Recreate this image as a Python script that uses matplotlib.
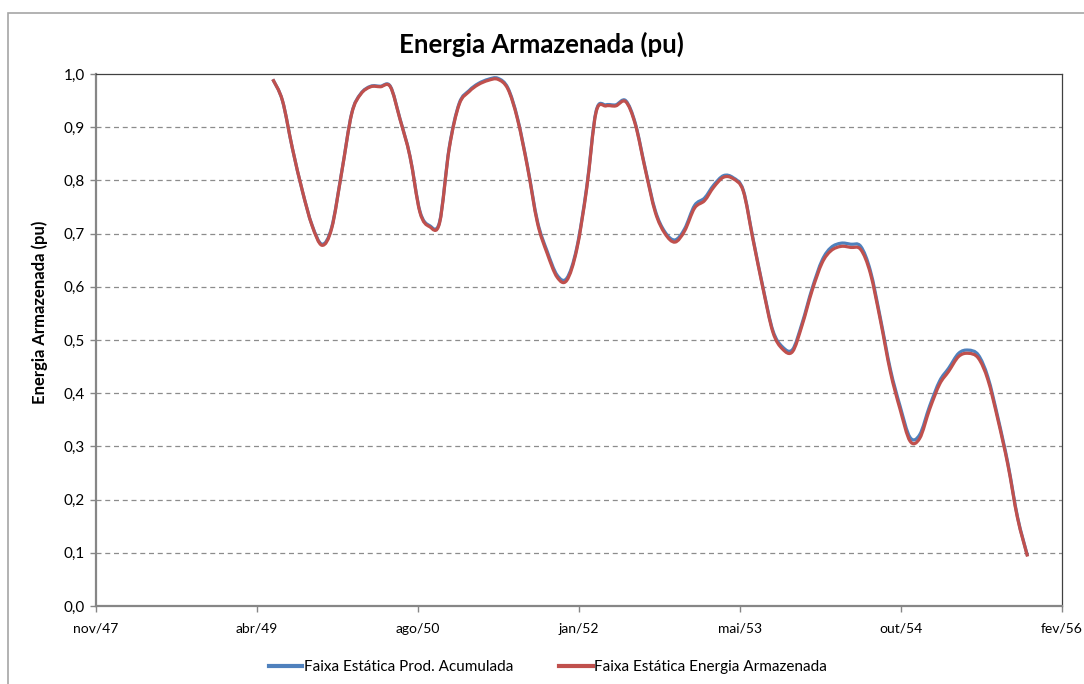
import numpy as np
import pandas as pd
import matplotlib
matplotlib.use("Agg")
import matplotlib.pyplot as plt
import matplotlib.dates as mdates
from matplotlib.lines import Line2D
from matplotlib.path import Path
from matplotlib.patches import PathPatch

plt.rcParams['font.family'] = ['Lato', 'DejaVu Sans']

# monthly series, jun/49 .. nov/55
meses = pd.date_range("1949-06-01", periods=78, freq="MS")

energia_armazenada = [
    0.990, 0.950, 0.860, 0.780, 0.715, 0.678, 0.710, 0.815, 0.925, 0.962,
    0.976, 0.976, 0.976, 0.915, 0.845, 0.740, 0.713, 0.720, 0.860, 0.943,
    0.967, 0.980, 0.988, 0.990, 0.972, 0.915, 0.825, 0.720, 0.663, 0.618,
    0.612, 0.670, 0.785, 0.928, 0.940, 0.940, 0.948, 0.905, 0.820, 0.740,
    0.700, 0.684, 0.705, 0.748, 0.762, 0.787, 0.806, 0.803, 0.780, 0.690,
    0.598, 0.515, 0.483, 0.478, 0.528, 0.593, 0.645, 0.668, 0.676, 0.674,
    0.670, 0.625, 0.537, 0.440, 0.370, 0.310, 0.315, 0.370, 0.417, 0.441,
    0.469, 0.475, 0.466, 0.425, 0.350, 0.265, 0.165, 0.093,
]

prod_acumulada = [
    0.990, 0.950, 0.860, 0.780, 0.716, 0.680, 0.712, 0.816, 0.926, 0.963,
    0.977, 0.977, 0.977, 0.916, 0.846, 0.742, 0.715, 0.722, 0.862, 0.945,
    0.969, 0.982, 0.990, 0.992, 0.974, 0.917, 0.827, 0.723, 0.667, 0.622,
    0.616, 0.673, 0.788, 0.930, 0.942, 0.942, 0.950, 0.907, 0.822, 0.743,
    0.703, 0.688, 0.709, 0.753, 0.767, 0.791, 0.809, 0.805, 0.782, 0.692,
    0.600, 0.518, 0.487, 0.482, 0.532, 0.597, 0.650, 0.674, 0.682, 0.680,
    0.676, 0.630, 0.541, 0.445, 0.376, 0.317, 0.322, 0.376, 0.423, 0.447,
    0.475, 0.481, 0.472, 0.430, 0.354, 0.268, 0.167, 0.094,
]

xtick_labels = ["nov/47", "abr/49", "ago/50", "jan/52", "mai/53", "out/54", "fev/56"]
ytick_labels = ["0,0", "0,1", "0,2", "0,3", "0,4", "0,5", "0,6", "0,7", "0,8", "0,9", "1,0"]

AZUL = "#4F81BD"
VERMELHO = "#C0504D"


def linha_suave(x, y):
    """Excel-like smoothed line: cubic Bezier segments through every point."""
    p = np.column_stack([x, y])
    verts = [p[0]]
    codes = [Path.MOVETO]
    n = len(p)
    for i in range(n - 1):
        p0 = p[max(i - 1, 0)]
        p1 = p[i]
        p2 = p[i + 1]
        p3 = p[min(i + 2, n - 1)]
        verts += [p1 + (p2 - p0) / 6, p2 - (p3 - p1) / 6, p2]
        codes += [Path.CURVE4] * 3
    return Path(verts, codes)


fig = plt.figure(figsize=(10.84, 6.84), dpi=100)
ax = fig.add_axes([96 / 1084, 1 - 606 / 684, 966 / 1084, 532 / 684])

# outer chart border (Excel chart area)
fig.add_artist(plt.Rectangle((8 / 1084, -0.1), 1.2, 1 - 13 / 684 + 0.1,
                             transform=fig.transFigure, fill=False,
                             edgecolor="#a6a6a6", linewidth=1.2))

xnum = mdates.date2num(meses)
for serie, cor in [(prod_acumulada, AZUL), (energia_armazenada, VERMELHO)]:
    ax.add_patch(PathPatch(linha_suave(xnum, serie), fill=False, edgecolor=cor,
                           linewidth=2.3, capstyle="butt", joinstyle="round"))

inicio = pd.Timestamp("1947-11-30")
xticks = [inicio + pd.Timedelta(days=500 * i) for i in range(len(xtick_labels))]
ax.set_xlim(mdates.date2num(xticks[0]), mdates.date2num(xticks[-1]))
ax.set_xticks(mdates.date2num(xticks))
ax.set_xticklabels(xtick_labels, fontsize=10)

ax.set_ylim(0, 1.0)
ax.set_yticks(np.arange(0, 1.01, 0.1))
ax.set_yticklabels(ytick_labels, fontsize=11)

for v in np.arange(0.1, 0.95, 0.1):
    ax.axhline(v, color="#8c8c8c", linewidth=0.9, linestyle=(0, (4, 3)), zorder=0)

for s in ["top", "right"]:
    ax.spines[s].set_color("#404040")
    ax.spines[s].set_linewidth(0.9)
for s in ["left", "bottom"]:
    ax.spines[s].set_color("#868686")
    ax.spines[s].set_linewidth(1.6)
ax.tick_params(axis="both", direction="out", length=4, color="#868686", width=1)
ax.tick_params(axis="x", pad=8)
ax.tick_params(axis="y", pad=4)

fig.text(40 / 1084, 1 - 312 / 684, "Energia Armazenada (pu)", rotation=90,
         ha="center", va="center", fontsize=12, fontweight="bold")
fig.text(541 / 1084, 1 - 44 / 684, "Energia Armazenada (pu)", ha="center", va="center",
         fontsize=18.5, fontweight="bold")

handles = [Line2D([], [], color=AZUL, linewidth=3),
           Line2D([], [], color=VERMELHO, linewidth=3)]
fig.legend(handles, ["Faixa Estática Prod. Acumulada", "Faixa Estática Energia Armazenada"],
           loc="center", bbox_to_anchor=(548 / 1084, 1 - 667 / 684), ncol=2, frameon=False,
           fontsize=11, handlelength=2.2, handletextpad=0.1, columnspacing=3.0)

fig.savefig("out.png", dpi=100)
